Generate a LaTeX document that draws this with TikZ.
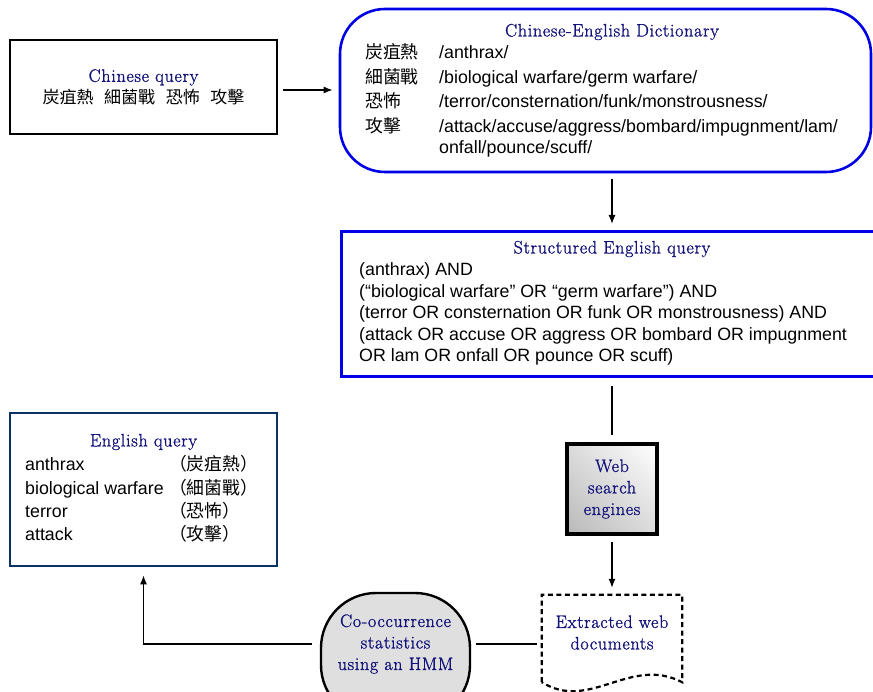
\documentclass[tikz,border=0pt]{standalone}
\usepackage{fontspec}
\setsansfont{Liberation Sans}
\newfontfamily\cjk[WordSpace=2.8]{Noto Sans CJK TC}
\newfontfamily\headserif[LetterSpace=4,FakeBold=1.2]{Latin Modern Roman}
\usepackage{xcolor}
\usetikzlibrary{calc}
\usetikzlibrary{positioning}
\usetikzlibrary{arrows.meta}
\usetikzlibrary{shadings}

\definecolor{titleblue}{RGB}{18,18,122}
\definecolor{boxblue}{RGB}{0,0,230}
\definecolor{navyline}{RGB}{10,50,100}

\newcommand{\boxtitlefont}{\headserif\fontsize{18}{21.5}\selectfont}
\newcommand{\bodyfont}{\sffamily\fontsize{17.8}{21.5}\selectfont}

\tikzset{
  box/.style={draw, line width=2.6pt, inner sep=0pt},
  head/.style={text=titleblue, font=\boxtitlefont, align=center, inner sep=0pt},
  body/.style={font=\bodyfont, anchor=base west, inner sep=0pt},
  link/.style={line width=1.3pt},
  docline/.style={line width=2.2pt, dash pattern=on 5pt off 3.5pt},
}

\begin{document}
\begin{tikzpicture}[x=1pt, y=-1pt, >={Latex[length=9pt,width=7pt]}]
\useasboundingbox (0,0) rectangle (873,692);
\coordinate (axis) at (612,0);

% query in Chinese
\node[box, head, line width=2.8pt, minimum width=267pt, minimum height=94pt] (cq) at (143.5,87)
  {Chinese query\\{\color{black}\cjk\fontsize{17}{21}\selectfont 炭疽熱 細菌戰 恐怖 攻擊}};

% dictionary
\node[box, draw=boxblue, rounded corners=45pt, minimum width=531pt, minimum height=163pt] (dict) at (605.5,90.5) {};
\node[head] (dicthead) at (612,32) {Chinese-English Dictionary};
\node[body, font=\sffamily\fontsize{17.8}{24.5}\selectfont] (dictbody) at (365,59) {%
\begin{tabular}[t]{@{}p{74pt}@{}l@{}}
\cjk 炭疽熱 & /anthrax/\\
\cjk 細菌戰 & /biological warfare/germ warfare/\\
\cjk 恐怖 & /terror/consternation/funk/monstrousness/\\
\cjk 攻擊 & /attack/accuse/aggress/bombard/impugnment/lam/\\[-3.5pt]
 & onfall/pounce/scuff/
\end{tabular}};

% structured query
\node[box, draw=boxblue, anchor=north west, minimum width=560pt, minimum height=145pt] (sq) at (340,230) {};
\node[head] (sqhead) at (612,249) {Structured English query};
\node[body] (sqbody) at (359,276) {%
\begin{tabular}[t]{@{}l@{}}
(anthrax) AND\\
(“biological warfare” OR “germ warfare”) AND\\
(terror OR consternation OR funk OR monstrousness) AND\\
(attack OR accuse OR aggress OR bombard OR impugnment\\
OR lam OR onfall OR pounce OR scuff)
\end{tabular}};

% search engines and documents
\node[box, head, line width=3.2pt, minimum size=90pt,
  upper right=white, upper left=gray!28, lower right=gray!28, lower left=gray!55] (web) at (612,489) {Web\\search\\engines};
\node[head, minimum width=140pt, minimum height=75pt] (docs) at (612,632.5) {Extracted web\\documents};
\draw[docline] ($(docs.south west)+(0,12)$) -- (docs.north west) -- (docs.north east) -- ($(docs.south east)+(0,12)$)
  .. controls ($(docs.south east)+(-52,-15)$) and ($(docs.south west)+(48,42)$) .. ($(docs.south west)+(0,12)$);

% HMM
\node[box, line width=2.4pt, fill=gray!25, rounded corners=55pt, minimum width=149pt, minimum height=127pt] (hmm) at (395.5,656.5) {};
\node[head] (hmmtext) at (395.5,644) {Co-occurrence\\statistics\\using an HMM};

% English query
\node[box, draw=navyline, minimum width=267pt, minimum height=153pt] (eq) at (143.5,489.5) {};
\node[head] (eqhead) at (143.5,442) {English query};
\node[body, font=\sffamily\fontsize{17.8}{23.3}\selectfont] (eqbody) at (25,471) {%
\begin{tabular}[t]{@{}p{144pt}@{}l@{}}
anthrax & \cjk （炭疽熱）\\
biological warfare & \cjk （細菌戰）\\
terror & \cjk （恐怖）\\
attack & \cjk （攻擊）
\end{tabular}};

% connectors
\draw[link,->] ($(cq.east)+(5,3)$) -- ($(dict.west |- cq.east)+(-6,3)$);
\draw[link,->] ($(dict.south -| axis)+(0,6)$) -- ($(sq.north -| axis)+(0,-6)$);
\draw[link] ($(sq.south -| axis)+(0,8)$) -- ($(web.north)+(0,-7)$);
\draw[link,->] ($(web.south)+(0,6)$) -- ($(docs.north)+(0,-7)$);
\draw[link] ($(hmm.east |- hmmtext)+(5,0)$) -- ($(docs.west |- hmmtext)+(-5,0)$);
\draw[link,->] ($(hmm.west |- hmmtext)+(-8,0)$) -| ($(eq.south)+(0,8)$);
\end{tikzpicture}
\end{document}
